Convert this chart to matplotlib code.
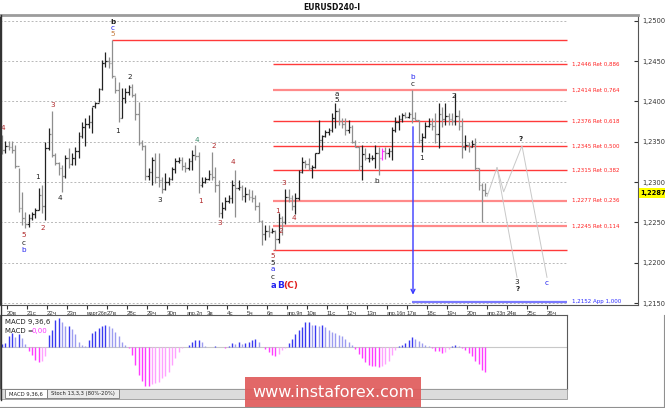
import matplotlib
matplotlib.use("Agg")
import matplotlib.pyplot as plt
from matplotlib.patches import Rectangle
from matplotlib.transforms import blended_transform_factory
import numpy as np

# H4 bars, Mar 19 (last two bars) .. Apr 20, one day per line
opens = [
    1.2350, 1.2340,
    1.2345, 1.2344, 1.2340, 1.2320, 1.2268, 1.2255,
    1.2248, 1.2256, 1.2260, 1.2266, 1.2284, 1.2270,
    1.2342, 1.2360, 1.2334, 1.2324, 1.2318, 1.2308,
    1.2330, 1.2322, 1.2330, 1.2338, 1.2357, 1.2368,
    1.2372, 1.2375, 1.2394, 1.2398, 1.2415, 1.2447,
    1.2450, 1.2447, 1.2432, 1.2414, 1.2380, 1.2404,
    1.2412, 1.2418, 1.2408, 1.2385, 1.2349, 1.2345,
    1.2308, 1.2312, 1.2328, 1.2306, 1.2302, 1.2292,
    1.2300, 1.2304, 1.2316, 1.2326, 1.2328, 1.2320,
    1.2318, 1.2326, 1.2334, 1.2332, 1.2296, 1.2300,
    1.2304, 1.2310, 1.2306, 1.2296, 1.2262, 1.2268,
    1.2276, 1.2280, 1.2296, 1.2293, 1.2294, 1.2283,
    1.2285, 1.2282, 1.2280, 1.2270, 1.2252, 1.2236,
    1.2240, 1.2238, 1.2240, 1.2230, 1.2256, 1.2250,
    1.2282, 1.2280, 1.2270, 1.2280, 1.2312, 1.2325,
    1.2322, 1.2318, 1.2319, 1.2336, 1.2352, 1.2357,
    1.2362, 1.2364, 1.2380, 1.2388, 1.2376, 1.2372,
    1.2365, 1.2368, 1.2350, 1.2344, 1.2320, 1.2335,
    1.2330, 1.2330, 1.2330, 1.2336, 1.2330, 1.2338,
    1.2336, 1.2338, 1.2365, 1.2374, 1.2378, 1.2383,
    1.2381, 1.2385, 1.2380, 1.2377, 1.2352, 1.2356,
    1.2370, 1.2372, 1.2370, 1.2360, 1.2385, 1.2378,
    1.2382, 1.2378, 1.2376, 1.2382, 1.2370, 1.2344,
    1.2346, 1.2344, 1.2347, 1.2318, 1.2296, 1.2290,
]
highs = [
    1.2358, 1.2351,
    1.2351, 1.2351, 1.2346, 1.2318, 1.2288, 1.2263,
    1.2261, 1.2263, 1.2268, 1.2293, 1.2296, 1.2350,
    1.2367, 1.2388, 1.2336, 1.2325, 1.2321, 1.2334,
    1.2342, 1.2336, 1.2343, 1.2362, 1.2374, 1.2380,
    1.2383, 1.2393, 1.2399, 1.2417, 1.2451, 1.2461,
    1.2455, 1.2476, 1.2430, 1.2424, 1.2417, 1.2417,
    1.2420, 1.2422, 1.2410, 1.2399, 1.2352, 1.2346,
    1.2317, 1.2331, 1.2336, 1.2336, 1.2306, 1.2311,
    1.2306, 1.2319, 1.2330, 1.2331, 1.2331, 1.2325,
    1.2330, 1.2340, 1.2346, 1.2337, 1.2306, 1.2306,
    1.2315, 1.2337, 1.2319, 1.2303, 1.2275, 1.2281,
    1.2284, 1.2303, 1.2315, 1.2303, 1.2296, 1.2294,
    1.2292, 1.2290, 1.2284, 1.2275, 1.2253, 1.2247,
    1.2247, 1.2243, 1.2241, 1.2262, 1.2258, 1.2292,
    1.2292, 1.2284, 1.2286, 1.2315, 1.2331, 1.2327,
    1.2330, 1.2321, 1.2336, 1.2377, 1.2358, 1.2365,
    1.2367, 1.2386, 1.2398, 1.2392, 1.2380, 1.2380,
    1.2377, 1.2371, 1.2352, 1.2345, 1.2346, 1.2342,
    1.2336, 1.2333, 1.2346, 1.2343, 1.2342, 1.2343,
    1.2342, 1.2368, 1.2381, 1.2383, 1.2386, 1.2387,
    1.2387, 1.2414, 1.2387, 1.2377, 1.2361, 1.2374,
    1.2380, 1.2380, 1.2386, 1.2398, 1.2393, 1.2398,
    1.2386, 1.2386, 1.2410, 1.2389, 1.2379, 1.2358,
    1.2350, 1.2352, 1.2355, 1.2317, 1.2299, 1.2299,
]
lows = [
    1.2335, 1.2336,
    1.2340, 1.2336, 1.2317, 1.2263, 1.2247, 1.2243,
    1.2244, 1.2253, 1.2256, 1.2266, 1.2262, 1.2253,
    1.2340, 1.2331, 1.2321, 1.2309, 1.2288, 1.2305,
    1.2317, 1.2321, 1.2321, 1.2330, 1.2355, 1.2345,
    1.2367, 1.2361, 1.2392, 1.2399, 1.2414, 1.2443,
    1.2441, 1.2429, 1.2410, 1.2374, 1.2379, 1.2398,
    1.2408, 1.2405, 1.2377, 1.2346, 1.2340, 1.2303,
    1.2303, 1.2296, 1.2299, 1.2294, 1.2286, 1.2290,
    1.2296, 1.2303, 1.2311, 1.2324, 1.2315, 1.2312,
    1.2315, 1.2315, 1.2327, 1.2286, 1.2294, 1.2299,
    1.2303, 1.2303, 1.2288, 1.2257, 1.2255, 1.2265,
    1.2274, 1.2274, 1.2257, 1.2290, 1.2278, 1.2275,
    1.2278, 1.2275, 1.2265, 1.2250, 1.2222, 1.2228,
    1.2232, 1.2237, 1.2216, 1.2224, 1.2235, 1.2248,
    1.2275, 1.2265, 1.2261, 1.2278, 1.2311, 1.2317,
    1.2315, 1.2305, 1.2318, 1.2336, 1.2340, 1.2356,
    1.2358, 1.2362, 1.2367, 1.2371, 1.2367, 1.2358,
    1.2361, 1.2348, 1.2343, 1.2315, 1.2303, 1.2327,
    1.2325, 1.2327, 1.2318, 1.2309, 1.2327, 1.2329,
    1.2331, 1.2327, 1.2362, 1.2365, 1.2374, 1.2379,
    1.2379, 1.2373, 1.2377, 1.2348, 1.2337, 1.2355,
    1.2368, 1.2365, 1.2349, 1.2342, 1.2368, 1.2371,
    1.2371, 1.2371, 1.2371, 1.2365, 1.2330, 1.2340,
    1.2337, 1.2343, 1.2315, 1.2290, 1.2251, 1.2283,
]
closes = [
    1.2340, 1.2345,
    1.2344, 1.2340, 1.2320, 1.2268, 1.2255, 1.2248,
    1.2256, 1.2260, 1.2266, 1.2284, 1.2270, 1.2342,
    1.2360, 1.2334, 1.2324, 1.2318, 1.2308, 1.2330,
    1.2322, 1.2330, 1.2338, 1.2357, 1.2368, 1.2372,
    1.2375, 1.2394, 1.2398, 1.2415, 1.2447, 1.2450,
    1.2447, 1.2432, 1.2414, 1.2380, 1.2404, 1.2412,
    1.2418, 1.2408, 1.2385, 1.2349, 1.2345, 1.2308,
    1.2312, 1.2328, 1.2306, 1.2302, 1.2292, 1.2300,
    1.2304, 1.2316, 1.2326, 1.2328, 1.2320, 1.2318,
    1.2326, 1.2334, 1.2332, 1.2296, 1.2300, 1.2304,
    1.2310, 1.2306, 1.2296, 1.2262, 1.2268, 1.2276,
    1.2280, 1.2296, 1.2293, 1.2294, 1.2283, 1.2285,
    1.2282, 1.2280, 1.2270, 1.2252, 1.2236, 1.2240,
    1.2238, 1.2240, 1.2230, 1.2256, 1.2250, 1.2282,
    1.2280, 1.2270, 1.2280, 1.2312, 1.2325, 1.2322,
    1.2318, 1.2319, 1.2336, 1.2352, 1.2357, 1.2362,
    1.2364, 1.2380, 1.2388, 1.2376, 1.2372, 1.2365,
    1.2368, 1.2350, 1.2344, 1.2320, 1.2335, 1.2330,
    1.2330, 1.2330, 1.2336, 1.2330, 1.2338, 1.2336,
    1.2338, 1.2365, 1.2374, 1.2378, 1.2383, 1.2381,
    1.2385, 1.2380, 1.2377, 1.2352, 1.2356, 1.2370,
    1.2372, 1.2370, 1.2360, 1.2385, 1.2378, 1.2382,
    1.2378, 1.2376, 1.2382, 1.2370, 1.2344, 1.2346,
    1.2344, 1.2347, 1.2318, 1.2296, 1.2290, 1.2287,
]

# MACD 9,36,6 histogram (x 1e-4), one value per bar
macd = [
    0.3, 0.4, 1.1, 1.4, 1.0, 1.3, 0.9, 0.3, -0.4, -0.8,
    -1.3, -1.5, -1.4, -0.9, 1.2, 1.7, 2.7, 2.9, 2.5, 2.1,
    2.1, 1.8, 1.3, 0.5, 0.2, 0.1, 0.7, 1.4, 1.6, 1.9,
    2.1, 2.2, 2.1, 1.9, 1.5, 1.1, 0.5, 0.2, -0.1, -0.8,
    -1.8, -2.7, -3.3, -3.8, -3.8, -3.6, -3.5, -3.4, -3.0, -2.8,
    -2.5, -1.8, -1.1, -0.5, -0.1, 0.05, 0.2, 0.5, 0.7, 0.7,
    0.5, 0.1, 0.05, 0.05, 0.15, 0.05, 0.0, -0.1, 0.1, 0.4,
    0.3, 0.5, 0.3, 0.4, 0.5, 0.7, 0.8, 0.5, 0.05, -0.2,
    -0.5, -0.8, -0.9, -0.7, -0.3, -0.1, 0.4, 0.8, 1.3, 1.7,
    2.0, 2.5, 2.5, 2.2, 2.2, 2.1, 2.2, 2.0, 1.7, 1.5,
    1.4, 1.2, 1.1, 0.8, 0.5, 0.2, -0.2, -0.7, -1.1, -1.5,
    -1.8, -1.9, -1.9, -2.0, -1.9, -1.7, -1.4, -0.8, -0.3, 0.1,
    0.2, 0.4, 0.7, 1.0, 0.8, 0.6, 0.4, 0.2, 0.1, -0.1,
    -0.4, -0.4, -0.6, -0.5, -0.2, 0.1, 0.2, 0.1, -0.1, -0.3,
    -0.6, -0.9, -1.4, -1.7, -2.3, -2.5,
]

day_labels = ["20в", "21с", "22ч", "23п", "март26п", "27в", "28с", "29ч", "30п",
              "апр.2п", "3в", "4с", "5ч", "6п", "апр.9п", "10в", "11с", "12ч", "13п",
              "апр.16п", "17в", "18с", "19ч", "20п", "апр.23п", "24в", "25с", "26ч"]

grid_prices = [1.2150, 1.2200, 1.2250, 1.2300, 1.2350, 1.2400, 1.2450, 1.2500]

fib_prices = [1.2446, 1.2414, 1.2376, 1.2345, 1.2315, 1.2277, 1.2245]
fib_ratios = ["0,886", "0,764", "0,618", "0,500", "0,382", "0,236", "0,114"]
fib_soft = [False, True, False, False, False, True, True]
app_price = 1.2152
app_bar = 121
marked_bar = 112

# forecast paths (bar, price)
fc_a_x = [143.5, 146.5, 152.5]
fc_a_y = [1.2282, 1.2318, 1.2182]
fc_b_x = [146.5, 148.5, 154.0, 161.5]
fc_b_y = [1.2318, 1.2288, 1.2345, 1.2182]

# wave marks (bar, price, colour key)
wave_text = ["4", "5", "c", "b", "1", "2", "3", "4", "b", "c", "5", "1", "2", "3",
             "4", "1", "2", "3", "4", "5", "5", "a", "c", "1", "2", "3", "4", "a",
             "5", "b", "b", "c", "1", "2", "?", "3", "?", "c"]
wave_x = [-1.7, 4.6, 4.6, 4.6, 8.5, 10.3, 13.3, 15.4, 31.3, 31.3, 31.3, 32.5, 36.4,
          45.4, 56.5, 57.4, 61.6, 63.4, 67.3, 79.3, 79.3, 79.3, 79.3, 80.5, 81.7,
          82.6, 85.6, 98.5, 98.5, 110.5, 121.3, 121.3, 123.7, 133.6, 153.7, 152.5,
          152.8, 161.5]
wave_y = [1.2367, 1.2234, 1.2224, 1.2216, 1.2306, 1.2243, 1.2396, 1.2280, 1.2498,
          1.2491, 1.2484, 1.2363, 1.2430, 1.2278, 1.2352, 1.2277, 1.2345, 1.2249,
          1.2325, 1.2208, 1.2200, 1.2192, 1.2182, 1.2264, 1.2239, 1.2299, 1.2255,
          1.2409, 1.2402, 1.2301, 1.2430, 1.2422, 1.2330, 1.2407, 1.2353, 1.2176,
          1.2167, 1.2175]
wave_col = "RRKBKRRKKBOKKKGRRRRRKBKRRRRKKKBKKKKKKB"
palette = {"R": "#b0282a", "K": "#1e1e1e", "B": "#2323f0", "G": "#3a8c6c", "O": "#c47a3c"}

W, H = 665, 408


def px_box(left, top, width, height):
    return [left / W, 1 - (top + height) / H, width / W, height / H]


fig = plt.figure(figsize=(W / 100, H / 100), dpi=100)
fig.patch.set_facecolor("white")

x0, x_grid, x1 = -2.6, 167.5, 188.8

# price panel
ax = fig.add_axes(px_box(0, 15, 638, 290))
ax.set_xlim(x0, x1)
ax.set_ylim(1.21477, 1.25071)

xb = np.arange(len(highs)) - 2
o, h, l, c = map(np.array, (opens, highs, lows, closes))
bar_col = np.where(c >= o, "#222222", "#8e8e8e").astype(object)
bar_col[xb == marked_bar] = "#ff30ff"

ax.hlines(grid_prices, x0, x_grid, colors="#b8b8b8", linestyles=(0, (2, 2)), lw=0.7, zorder=1)

ax.vlines(xb, l, h, colors=bar_col, lw=0.9, zorder=3)
ax.hlines(o, xb - 0.45, xb, colors=bar_col, lw=0.9, zorder=3)
ax.hlines(c, xb, xb + 0.45, colors=bar_col, lw=0.9, zorder=3)

# fibo grid from the B(C) low, top line from the March peak
x_low = xb[np.argmin(l)] - 0.7
x_top = xb[np.argmax(h)]
ax.hlines(h.max(), x_top, x_grid, colors="#ff3a3a", lw=1, zorder=2)
ax.hlines(l.min(), x_low, x_grid, colors="#ff3a3a", lw=1, zorder=2)
for p, r, soft in zip(fib_prices, fib_ratios, fib_soft):
    ax.hlines(p, x_low, x_grid, colors="#ff8a8a" if soft else "#ff3a3a",
              lw=1.6 if soft else 1, zorder=2)
    ax.text(x_grid + 1.5, p, f"{p:.4f}".replace(".", ",") + " Ret " + r,
            color="#ff2020", fontsize=4.0, va="center", ha="left")

ax.hlines(app_price, app_bar, x_grid, colors="#7a7aff", lw=1.6, zorder=2)
ax.text(x_grid + 1.5, app_price, f"{app_price:.4f}".replace(".", ",") + " App 1,000",
        color="#2a2aff", fontsize=4.0, va="center", ha="left")
ax.annotate("", xy=(app_bar + 0.3, app_price + 0.0005), xytext=(app_bar + 0.3, 1.2372),
            arrowprops=dict(arrowstyle="->", color="#3a3aff", lw=1, mutation_scale=7),
            zorder=4)

ax.plot(fc_a_x, fc_a_y, color="#c8c8c8", lw=0.7, zorder=2)
ax.plot(fc_b_x, fc_b_y, color="#c8c8c8", lw=0.7, zorder=2)

for t, xx, yy, k in zip(wave_text, wave_x, wave_y, wave_col):
    bold = t == "?" or (t == "b" and yy > 1.249)
    ax.text(xx, yy, t, color=palette[k], fontsize=5.2, ha="center", va="center",
            fontweight="bold" if bold else "normal", zorder=5)
ax.text(79.3, 1.2172, "a", color="#2323f0", fontsize=6, fontweight="bold", ha="center", va="center")
ax.text(81.6, 1.2172, "B", color="#2323f0", fontsize=6.5, fontweight="bold", ha="center", va="center")
ax.text(84.6, 1.2172, "(C)", color="#e02020", fontsize=6.5, fontweight="bold", ha="center", va="center")

ax.set_xticks([6 * d - 0.5 for d in range(len(day_labels))])
ax.set_xticklabels(day_labels, ha="left", family="Liberation Sans")
ax.tick_params(axis="x", direction="out", length=3, labelsize=4.4, pad=1.5, colors="#333333")
for lab in ax.get_xticklabels():
    if len(lab.get_text()) > 4:
        lab.set_fontsize(3.8)
ax.yaxis.tick_right()
ax.set_yticks(grid_prices)
ax.set_yticklabels([f"{p:.4f}".replace(".", ",") for p in grid_prices])
ax.tick_params(axis="y", direction="in", length=3, labelsize=4.8, pad=3, colors="#333333")
for side in ("bottom", "right"):
    ax.spines[side].set_color("#555555")
    ax.spines[side].set_linewidth(0.8)
ax.spines["left"].set_color("#333333")
ax.spines["top"].set_color("#9c9c9c")
ax.spines["top"].set_linewidth(2)

last = closes[-1]
ax.text(1.004, last, f"{last:.4f}".replace(".", ","), fontsize=4.8, fontweight="bold",
        ha="left", va="center", transform=blended_transform_factory(ax.transAxes, ax.transData),
        bbox=dict(boxstyle="square,pad=0.3", facecolor="#ffff00", edgecolor="none"),
        clip_on=False)

# MACD panel
axm = fig.add_axes(px_box(0, 315, 567, 74))
axm.set_xlim(x0, x_grid)
axm.set_ylim(-4.13, 3.17)
axm.set_xticks([])
axm.set_yticks([])
for s in axm.spines.values():
    s.set_color("#5a5a5a")
    s.set_linewidth(0.8)
mv = np.array(macd)
prev = np.concatenate([[0.0], mv[:-1]])
m_col = np.where(mv >= 0,
                 np.where(mv >= prev, "#3a3af0", "#9c9cf0"),
                 np.where(mv <= prev, "#ff3cff", "#ffa0ff"))
axm.axhline(0, color="#c8c8c8", lw=0.8)
axm.vlines(xb, 0, mv, colors=m_col, lw=1.0)
axm.text(0.008, 0.9, "MACD 9,36,6", transform=axm.transAxes, fontsize=5, color="#222222", va="center")
axm.text(0.008, 0.78, "MACD =", transform=axm.transAxes, fontsize=5, color="#222222", va="center")
axm.text(0.056, 0.78, "0,00", transform=axm.transAxes, fontsize=5, color="#ff33ff", va="center")

# overlay for title, tabs and watermark
axo = fig.add_axes([0, 0, 1, 1], zorder=10)
axo.set_xlim(0, W)
axo.set_ylim(H, 0)
axo.axis("off")
axo.text(332, 7, "EURUSD240-I", fontsize=5.5, fontweight="bold", ha="center", va="center", color="#111111")
axo.plot([0.5, 0.5], [15, 400], color="#333333", lw=1)
axo.add_patch(Rectangle((0, 389), 567, 10, facecolor="#dcdcdc", edgecolor="#9a9a9a", lw=0.6))
axo.add_patch(Rectangle((5, 389), 42, 9, facecolor="white", edgecolor="#777777", lw=0.6))
axo.add_patch(Rectangle((47, 389), 72, 9, facecolor="#ececec", edgecolor="#777777", lw=0.6))
axo.text(26, 394, "MACD 9,36,6", fontsize=3.8, ha="center", va="center", color="#222222")
axo.text(83, 394, "Stoch 13,3,3 (80%-20%)", fontsize=3.8, ha="center", va="center", color="#222222")
axo.plot([0, 665], [407, 407], color="#909090", lw=0.8)
axo.plot([664, 664], [315, 408], color="#909090", lw=0.8)
axo.add_patch(Rectangle((245, 377), 176, 31, facecolor="#e05c5c", edgecolor="none", alpha=0.93))
axo.text(333, 392.5, "www.instaforex.com", fontsize=11.5, color="white", ha="center", va="center")

fig.savefig("out.png", dpi=100)
